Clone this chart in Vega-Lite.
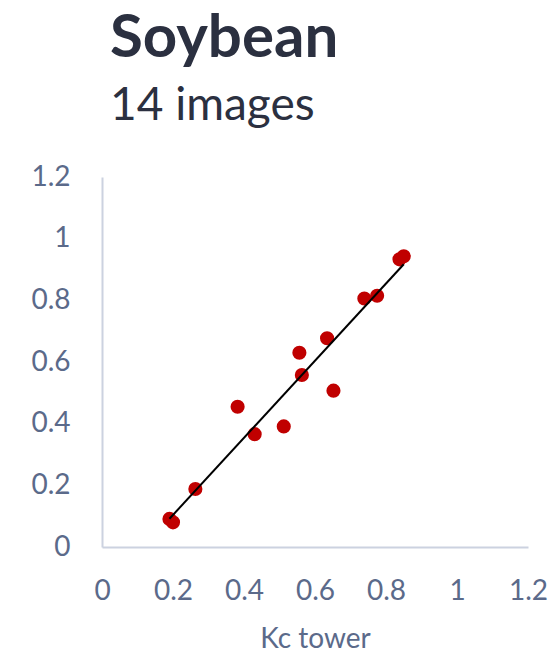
{
  "$schema": "https://vega.github.io/schema/vega-lite/v6.json",
  "autosize": "none",
  "width": 426,
  "height": 370,
  "padding": {"left": 102, "top": 177, "right": 32, "bottom": 107},
  "background": "white",
  "title": {
    "text": "Soybean",
    "subtitle": "14 images",
    "anchor": "start",
    "frame": "group",
    "dx": 8,
    "offset": 33,
    "font": "Lato",
    "fontSize": 60,
    "fontWeight": "bold",
    "color": "#2b3040",
    "subtitleFont": "Lato",
    "subtitleFontSize": 46,
    "subtitleColor": "#2b3040",
    "subtitlePadding": 14
  },
  "config": {
    "view": {"stroke": null},
    "axis": {
      "grid": false,
      "ticks": false,
      "domainColor": "#ccd2e0",
      "domainWidth": 2,
      "labelFont": "Lato",
      "labelFontSize": 28,
      "labelColor": "#5b6a8a",
      "titleFont": "Lato",
      "titleFontSize": 28,
      "titleFontWeight": "normal",
      "titleColor": "#5b6a8a"
    }
  },
  "data": {
    "values": [
      {"kc_tower": 0.190, "kc_image": 0.091},
      {"kc_tower": 0.200, "kc_image": 0.080},
      {"kc_tower": 0.263, "kc_image": 0.188},
      {"kc_tower": 0.382, "kc_image": 0.455},
      {"kc_tower": 0.430, "kc_image": 0.366},
      {"kc_tower": 0.512, "kc_image": 0.391},
      {"kc_tower": 0.556, "kc_image": 0.630},
      {"kc_tower": 0.563, "kc_image": 0.558},
      {"kc_tower": 0.652, "kc_image": 0.507},
      {"kc_tower": 0.634, "kc_image": 0.677},
      {"kc_tower": 0.739, "kc_image": 0.806},
      {"kc_tower": 0.775, "kc_image": 0.815},
      {"kc_tower": 0.838, "kc_image": 0.933},
      {"kc_tower": 0.850, "kc_image": 0.943}
    ]
  },
  "layer": [
    {
      "mark": {"type": "point", "filled": true, "shape": "circle", "size": 200, "color": "#c00000", "opacity": 1},
      "encoding": {
        "x": {
          "field": "kc_tower", "type": "quantitative", "title": "Kc tower",
          "scale": {"domain": [0, 1.2], "nice": false, "zero": true},
          "axis": {"values": [0, 0.2, 0.4, 0.6, 0.8, 1, 1.2], "format": "~g", "labelPadding": 30, "titlePadding": 20, "labelFlush": false}
        },
        "y": {
          "field": "kc_image", "type": "quantitative", "title": null,
          "scale": {"domain": [0, 1.2], "nice": false},
          "axis": {"values": [0, 0.2, 0.4, 0.6, 0.8, 1, 1.2], "format": "~g", "labelPadding": 32, "labelFlush": false}
        }
      }
    },
    {
      "transform": [{"regression": "kc_image", "on": "kc_tower"}],
      "mark": {"type": "line", "color": "black", "strokeWidth": 2},
      "encoding": {
        "x": {"field": "kc_tower", "type": "quantitative"},
        "y": {"field": "kc_image", "type": "quantitative"}
      }
    }
  ]
}
